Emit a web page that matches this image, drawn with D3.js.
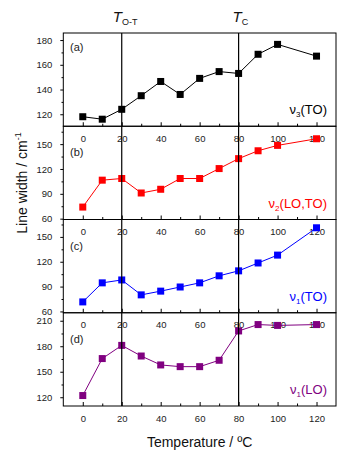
<!DOCTYPE html>
<html><head><meta charset="utf-8">
<script src="https://cdn.jsdelivr.net/npm/d3@7"></script>
<style>body{margin:0;background:#fff}svg{display:block}text{font-family:"Liberation Sans",Arial,sans-serif}</style>
</head><body><svg id="c" width="360" height="463"></svg>
<script>
const temps = [0,10,20,30,40,50,60,70,80,90,100,120];
const seriesA = [118,116,124,135,146.5,136,149,154.5,153,168.5,176.5,167];
const seriesB = [74,106.5,108.5,91,95.5,108.5,108.5,120.5,132.5,142,148.5,156.5];
const seriesC = [71.5,94.5,98,80,84.5,89.5,94.5,103,109,118.5,128,161];
const seriesD = [122,165.5,181,168.5,158,156,156,163.5,198,205.5,204.5,205.5];
const panelNames = ["(a)","(b)","(c)","(d)"];
const modeNames = [["ν","3","(TO)"],["ν","2","(LO,TO)"],["ν","1","(TO)"],["ν","1","(LO)"]];
const colors = ["#000000","#ff0000","#0000ff","#800080"];
const yDomains = [[110.3,185.7],[59,171.6],[58.4,171],[109.7,219.4]];
const yMajor = [[120,140,160,180],[60,90,120,150],[60,90,120,150],[120,150,180,210]];
const yMinor = [[130,150,170],[75,105,135,165],[75,105,135,165],[135,165,195]];
const xMajor = [0,20,40,60,80,100,120];
const xMinor = [10,30,50,70,90,110];
const transitions = [20,80];

const svg = d3.select("#c");
const L = 63.3, R = 336, T0 = 33, PH = 93.25;
const x = d3.scaleLinear().domain([-10,130]).range([L,R]);
const all = [seriesA,seriesB,seriesC,seriesD];

all.forEach((vals,i)=>{
  const top = T0 + i*PH, bot = top + PH;
  const y = d3.scaleLinear().domain(yDomains[i]).range([bot,top]);
  const g = svg.append("g");
  // y axis major
  const ya = g.append("g").attr("transform",`translate(${L},0)`)
    .call(d3.axisLeft(y).tickValues(yMajor[i]).tickSize(3).tickPadding(8).tickFormat(d3.format("d")));
  ya.select(".domain").remove();
  ya.selectAll("text").attr("font-size","9.5px").attr("fill","#222").attr("font-family","Liberation Sans, Arial, sans-serif");
  ya.selectAll("line").attr("stroke","#000");
  const ym = g.append("g").attr("transform",`translate(${L},0)`)
    .call(d3.axisLeft(y).tickValues(yMinor[i]).tickSize(1.8).tickFormat(""));
  ym.select(".domain").remove();
  // x axis
  const xa = g.append("g").attr("transform",`translate(0,${bot})`)
    .call(d3.axisBottom(x).tickValues(xMajor).tickSizeInner(-4).tickSizeOuter(0).tickPadding(9).tickFormat(d3.format("d")));
  xa.select(".domain").remove();
  xa.selectAll("text").attr("font-size","9.5px").attr("fill","#222").attr("font-family","Liberation Sans, Arial, sans-serif");
  const xm = g.append("g").attr("transform",`translate(0,${bot})`)
    .call(d3.axisBottom(x).tickValues(xMinor).tickSizeInner(-2.5).tickSizeOuter(0).tickFormat(""));
  xm.select(".domain").remove();
  // frame
  g.append("rect").attr("x",L).attr("y",top).attr("width",R-L).attr("height",PH)
    .attr("fill","none").attr("stroke","#000").attr("stroke-width",1);
  // line and markers
  const pts = temps.map((t,k)=>[t,vals[k]]);
  g.append("path").datum(pts).attr("fill","none").attr("stroke",colors[i]).attr("stroke-width",1)
    .attr("d",d3.line().x(d=>x(d[0])).y(d=>y(d[1])));
  g.selectAll("rect.m").data(pts).enter().append("rect").attr("class","m")
    .attr("x",d=>x(d[0])-3.5).attr("y",d=>y(d[1])-3.5).attr("width",7).attr("height",7)
    .attr("fill",colors[i]);
  // panel label
  g.append("text").attr("x",70).attr("y", top + (i===0?18:30)).attr("font-size","11px").attr("fill","#222").text(panelNames[i]);
  // mode label
  const mt = g.append("text").attr("x",327).attr("y",bot-12).attr("text-anchor","end")
    .attr("font-size","13px").attr("fill",colors[i]);
  mt.append("tspan").text(modeNames[i][0]);
  mt.append("tspan").attr("font-size","8px").attr("dy",3).text(modeNames[i][1]);
  mt.append("tspan").attr("dy",-3).text(modeNames[i][2]);
});

// vertical transition lines
svg.selectAll("line.tr").data(transitions).enter().append("line").attr("class","tr")
  .attr("x1",d=>x(d)).attr("x2",d=>x(d)).attr("y1",T0).attr("y2",T0+4*PH)
  .attr("stroke","#000").attr("stroke-width",1.2);

// top labels
const tl1 = svg.append("text").attr("x",x(20)-9).attr("y",22).attr("font-size","15px").attr("fill","#111");
tl1.append("tspan").attr("font-style","italic").text("T");
tl1.append("tspan").attr("font-size","9px").attr("dy",3).text("O-T");
const tl2 = svg.append("text").attr("x",x(80)-6).attr("y",22).attr("font-size","15px").attr("fill","#111");
tl2.append("tspan").attr("font-style","italic").text("T");
tl2.append("tspan").attr("font-size","9px").attr("dy",3).text("C");

// axis titles
svg.append("text").attr("x",(L+R)/2).attr("y",447).attr("text-anchor","middle")
  .attr("font-size","14px").attr("fill","#111").text("Temperature / ºC");
const yt = svg.append("text").attr("transform","translate(27,183) rotate(-90)").attr("text-anchor","middle")
  .attr("font-size","14px").attr("fill","#111");
yt.append("tspan").text("Line width / cm");
yt.append("tspan").attr("font-size","9px").attr("dy",-6).text("-1");
</script></body></html>
